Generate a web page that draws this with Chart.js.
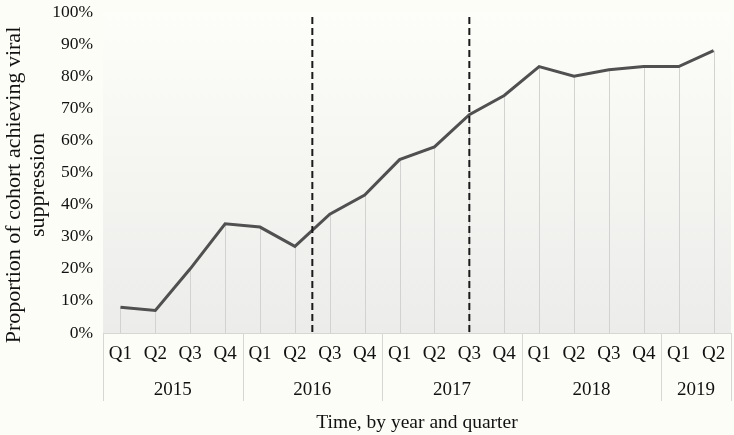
<!DOCTYPE html>
<html>
<head>
<meta charset="utf-8">
<script src="https://cdn.jsdelivr.net/npm/chart.js@4"></script>
<style>
  html, body { margin: 0; padding: 0; background: #fdfdf8; }
  #wrap { width: 734px; height: 435px; }
</style>
</head>
<body>
<div id="wrap"><canvas id="chart" width="734" height="435"></canvas></div>
<script>
const quarters = ['Q1', 'Q2', 'Q3', 'Q4', 'Q1', 'Q2', 'Q3', 'Q4', 'Q1', 'Q2', 'Q3', 'Q4',
  'Q1', 'Q2', 'Q3', 'Q4', 'Q1', 'Q2'];
const years = ['2015', '2016', '2017', '2018', '2019'];
const quartersPerYear = [4, 4, 4, 4, 2];
const suppression = [8, 7, 20, 34, 33, 27, 37, 43, 54, 58, 68, 74, 83, 80, 82, 83, 83, 88];
// dashed markers, as category positions (5.5 = between 2016 Q2 and Q3)
const markers = [5.5, 10];
const yTitle = ['Proportion of cohort achieving viral', 'suppression'];

const serif = "'Liberation Serif', 'DejaVu Serif', serif";

const plotBackground = {
  id: 'plotBackground',
  beforeDraw(chart) {
    const { ctx, chartArea: a } = chart;
    const g = ctx.createLinearGradient(0, a.top, 0, a.bottom);
    g.addColorStop(0, '#fdfdf9');
    g.addColorStop(1, '#ececea');
    ctx.save();
    ctx.fillStyle = g;
    ctx.fillRect(a.left, a.top, a.right - a.left, a.bottom - a.top);
    ctx.restore();
  }
};

const dropLines = {
  id: 'dropLines',
  beforeDatasetsDraw(chart) {
    const { ctx, chartArea: a } = chart;
    const points = chart.getDatasetMeta(0).data;
    ctx.save();
    ctx.strokeStyle = '#d2d2d0';
    ctx.lineWidth = 1;
    points.forEach(p => {
      const x = Math.round(p.x) + 0.5;
      ctx.beginPath();
      ctx.moveTo(x, p.y);
      ctx.lineTo(x, a.bottom);
      ctx.stroke();
    });
    ctx.restore();
  },
  afterDatasetsDraw(chart) {
    const { ctx, chartArea: a, scales: { x } } = chart;
    ctx.save();
    ctx.strokeStyle = '#1a1a1a';
    ctx.lineWidth = 2;
    ctx.setLineDash([7, 4]);
    markers.forEach(m => {
      const px = x.getPixelForValue(m);
      ctx.beginPath();
      ctx.moveTo(px, a.top + 5);
      ctx.lineTo(px, a.bottom);
      ctx.stroke();
    });
    ctx.restore();
  }
};

const axisExtras = {
  id: 'axisExtras',
  afterDraw(chart) {
    const { ctx, chartArea: a, scales: { x } } = chart;
    const half = (x.getPixelForValue(1) - x.getPixelForValue(0)) / 2;
    ctx.save();
    ctx.strokeStyle = '#d6d6d4';
    ctx.lineWidth = 1;
    ctx.fillStyle = '#111';
    ctx.font = '19px ' + serif;
    ctx.textAlign = 'center';
    ctx.textBaseline = 'middle';
    let start = 0;
    const edges = [x.getPixelForValue(0) - half];
    years.forEach((year, i) => {
      const end = start + quartersPerYear[i] - 1;
      const mid = (x.getPixelForValue(start) + x.getPixelForValue(end)) / 2;
      ctx.fillText(year, mid, 390);
      edges.push(x.getPixelForValue(end) + half);
      start = end + 1;
    });
    edges.forEach(e => {
      const ex = Math.round(e) + 0.5;
      ctx.beginPath();
      ctx.moveTo(ex, a.bottom);
      ctx.lineTo(ex, 401);
      ctx.stroke();
    });
    ctx.beginPath();
    ctx.moveTo(edges[0], a.bottom + 0.5);
    ctx.lineTo(edges[edges.length - 1], a.bottom + 0.5);
    ctx.stroke();

    // rotated y axis title, two lines
    ctx.font = '22px ' + serif;
    ctx.translate(14, 185);
    ctx.rotate(-Math.PI / 2);
    yTitle.forEach((line, i) => ctx.fillText(line, 0, i * 24));
    ctx.restore();
  }
};

new Chart(document.getElementById('chart'), {
  type: 'line',
  data: {
    labels: quarters,
    datasets: [{
      data: suppression,
      borderColor: '#505050',
      borderWidth: 3,
      pointRadius: 0,
      tension: 0,
      fill: false
    }]
  },
  options: {
    responsive: false,
    animation: false,
    layout: { padding: { top: 12, right: 3, left: 0, bottom: 0 } },
    plugins: { legend: { display: false }, tooltip: { enabled: false } },
    scales: {
      x: {
        offset: true,
        grid: { display: false, drawTicks: false },
        border: { display: false },
        ticks: {
          autoSkip: false, maxRotation: 0, padding: 10,
          color: '#111', font: { family: serif, size: 19 }
        },
        title: {
          display: true, text: 'Time, by year and quarter', color: '#111',
          font: { family: serif, size: 19.5 }, padding: { top: 0, bottom: 0 }
        },
        afterFit(scale) {
          scale.height = 102;
          scale.paddingLeft = 0;
          scale.paddingRight = 0;
        }
      },
      y: {
        min: 0, max: 100,
        grid: { display: false, drawTicks: false },
        border: { display: false },
        ticks: {
          stepSize: 10, padding: 10, color: '#111',
          font: { family: serif, size: 17.5 },
          callback: v => v + '%'
        },
        afterFit(scale) {
          scale.width = 103;
          scale.paddingTop = 0;
          scale.paddingBottom = 0;
        }
      }
    }
  },
  plugins: [plotBackground, dropLines, axisExtras]
});
</script>
</body>
</html>
